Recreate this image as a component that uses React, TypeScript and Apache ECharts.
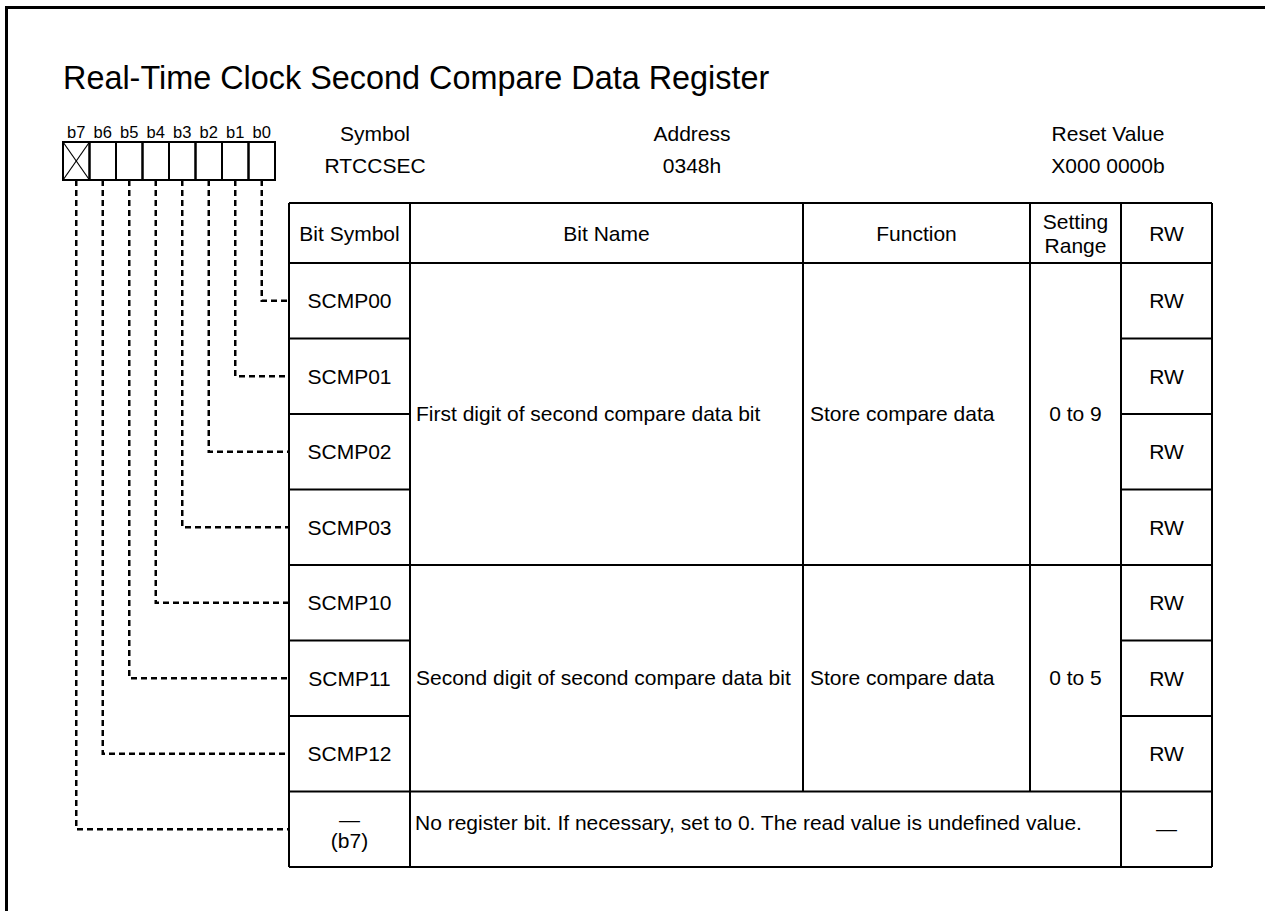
import React, { useEffect, useRef } from "react";
import * as echarts from "echarts";

const titleText = "Real-Time Clock Second Compare Data Register";
const bitLabels = ["b7", "b6", "b5", "b4", "b3", "b2", "b1", "b0"];
const unusedBits = ["b7"];
const infoHeaders = ["Symbol", "Address", "Reset Value"];
const infoValues = ["RTCCSEC", "0348h", "X000 0000b"];
const tableHeaders = ["Bit Symbol", "Bit Name", "Function", "Setting\nRange", "RW"];
const bitSymbols = ["SCMP00", "SCMP01", "SCMP02", "SCMP03", "SCMP10", "SCMP11", "SCMP12"];
const rwValues = ["RW", "RW", "RW", "RW", "RW", "RW", "RW"];
const groupSpans = [4, 3];
const groupBitNames = ["First digit of second compare data bit", "Second digit of second compare data bit"];
const groupFunctions = ["Store compare data", "Store compare data"];
const groupRanges = ["0 to 9", "0 to 5"];
const reservedSymbol = "(b7)";
const reservedNote = "No register bit. If necessary, set to 0. The read value is undefined value.";
const reservedRw = "—";

const FONT = 'Arial, "Liberation Sans", Helvetica, sans-serif';
const FS = 21;

function txt(x: number, y: number, text: string, size: number, align = "center", extra: any = {}) {
  return {
    type: "text",
    x,
    y,
    silent: true,
    style: {
      text,
      fill: "#000",
      fontSize: size,
      fontFamily: FONT,
      align,
      verticalAlign: "middle",
      textAlign: align,
      textVerticalAlign: "middle",
      ...extra,
    },
  };
}

function ln(x1: number, y1: number, x2: number, y2: number, w = 2, dash?: number[]) {
  return {
    type: "line",
    silent: true,
    shape: { x1, y1, x2, y2 },
    style: { stroke: "#000", lineWidth: w, lineDash: dash || null },
  };
}

function buildElements() {
  const els: any[] = [];
  // outer frame
  els.push({
    type: "rect",
    silent: true,
    shape: { x: 6.5, y: 7.5, width: 1320, height: 1000 },
    style: { fill: "none", stroke: "#000", lineWidth: 3 },
  });
  // title
  els.push(txt(63, 78, titleText, 32.4, "left"));

  // bit boxes
  const bx0 = 63, bw = 26.5, by0 = 142, bh = 38;
  bitLabels.forEach((b, i) => {
    const x = bx0 + i * bw;
    els.push(txt(x + bw / 2, 132, b, 16.5));
    els.push({
      type: "rect",
      silent: true,
      shape: { x, y: by0, width: bw, height: bh },
      style: { fill: "none", stroke: "#000", lineWidth: 2 },
    });
    if (unusedBits.includes(b)) {
      els.push(ln(x, by0, x + bw, by0 + bh, 1.2));
      els.push(ln(x + bw, by0, x, by0 + bh, 1.2));
    }
  });

  // info header
  const infoX = [375, 692, 1108];
  infoHeaders.forEach((h, i) => {
    els.push(txt(infoX[i], 133, h, FS));
    els.push(txt(infoX[i], 165, infoValues[i], FS));
  });

  // table
  const colX = [289, 410, 803, 1030, 1121, 1212];
  const hTop = 203, hBot = 263, rowH = 75.5;
  const nRows = bitSymbols.length + 1;
  const tBot = hBot + rowH * nRows;
  const rowY = (i: number) => hBot + rowH * i;
  const rowC = (i: number) => hBot + rowH * i + rowH / 2;

  // header texts
  tableHeaders.forEach((h, i) => {
    const cx = (colX[i] + colX[i + 1]) / 2;
    els.push(txt(cx, (hTop + hBot) / 2, h, FS, "center", { lineHeight: 24 }));
  });

  // outer & horizontal lines
  els.push(ln(colX[0], hTop, colX[5], hTop));
  els.push(ln(colX[0], hBot, colX[5], hBot));
  els.push(ln(colX[0], tBot, colX[5], tBot));
  colX.forEach((x, i) => {
    if (i === 0 || i === 5 || i === 1 || i === 4) {
      els.push(ln(x, hTop, x, tBot));
    } else {
      els.push(ln(x, hTop, x, rowY(bitSymbols.length)));
    }
  });

  // row lines for symbol & rw columns
  for (let i = 1; i < nRows; i++) {
    els.push(ln(colX[0], rowY(i), colX[1], rowY(i)));
    els.push(ln(colX[4], rowY(i), colX[5], rowY(i)));
  }
  // group lines
  let acc = 0;
  groupSpans.forEach((span, g) => {
    const top = rowY(acc);
    const bot = rowY(acc + span);
    const mid = (top + bot) / 2;
    els.push(ln(colX[1], bot, colX[4], bot));
    els.push(txt(416, mid - 1, groupBitNames[g], FS, "left"));
    els.push(txt(810, mid - 1, groupFunctions[g], FS, "left"));
    els.push(txt((colX[3] + colX[4]) / 2, mid - 1, groupRanges[g], FS));
    acc += span;
  });

  // row texts
  bitSymbols.forEach((s, i) => {
    els.push(txt((colX[0] + colX[1]) / 2, rowC(i), s, FS));
    els.push(txt((colX[4] + colX[5]) / 2, rowC(i), rwValues[i], FS));
  });
  const last = bitSymbols.length;
  els.push(txt((colX[0] + colX[1]) / 2, rowC(last) - 10, "—", FS));
  els.push(txt((colX[0] + colX[1]) / 2, rowC(last) + 11, reservedSymbol, FS));
  els.push(txt(415, rowC(last) - 7, reservedNote, FS, "left"));
  els.push(txt((colX[4] + colX[5]) / 2, rowC(last) - 1, reservedRw, FS));

  // dashed leader lines
  bitLabels.forEach((b, i) => {
    const x = bx0 + i * bw + bw / 2;
    const rowIdx = bitLabels.length - 1 - i;
    const y = rowC(rowIdx);
    els.push({
      type: "polyline",
      silent: true,
      shape: { points: [[x, by0 + bh], [x, y], [colX[0], y]] },
      style: { fill: "none", stroke: "#000", lineWidth: 2.5, lineDash: [6, 4] },
    });
  });

  return els;
}

export default function App() {
  const ref = useRef<HTMLDivElement>(null);
  useEffect(() => {
    if (!ref.current) return;
    document.body.style.margin = "0";
    const chart = echarts.init(ref.current, null, { renderer: "svg" });
    chart.setOption({
      animation: false,
      backgroundColor: "#fff",
      graphic: { elements: buildElements() },
    });
    return () => chart.dispose();
  }, []);
  return (
    <div
      ref={ref}
      style={{ position: "absolute", left: 0, top: 0, width: 1265, height: 911, background: "#fff" }}
    />
  );
}
